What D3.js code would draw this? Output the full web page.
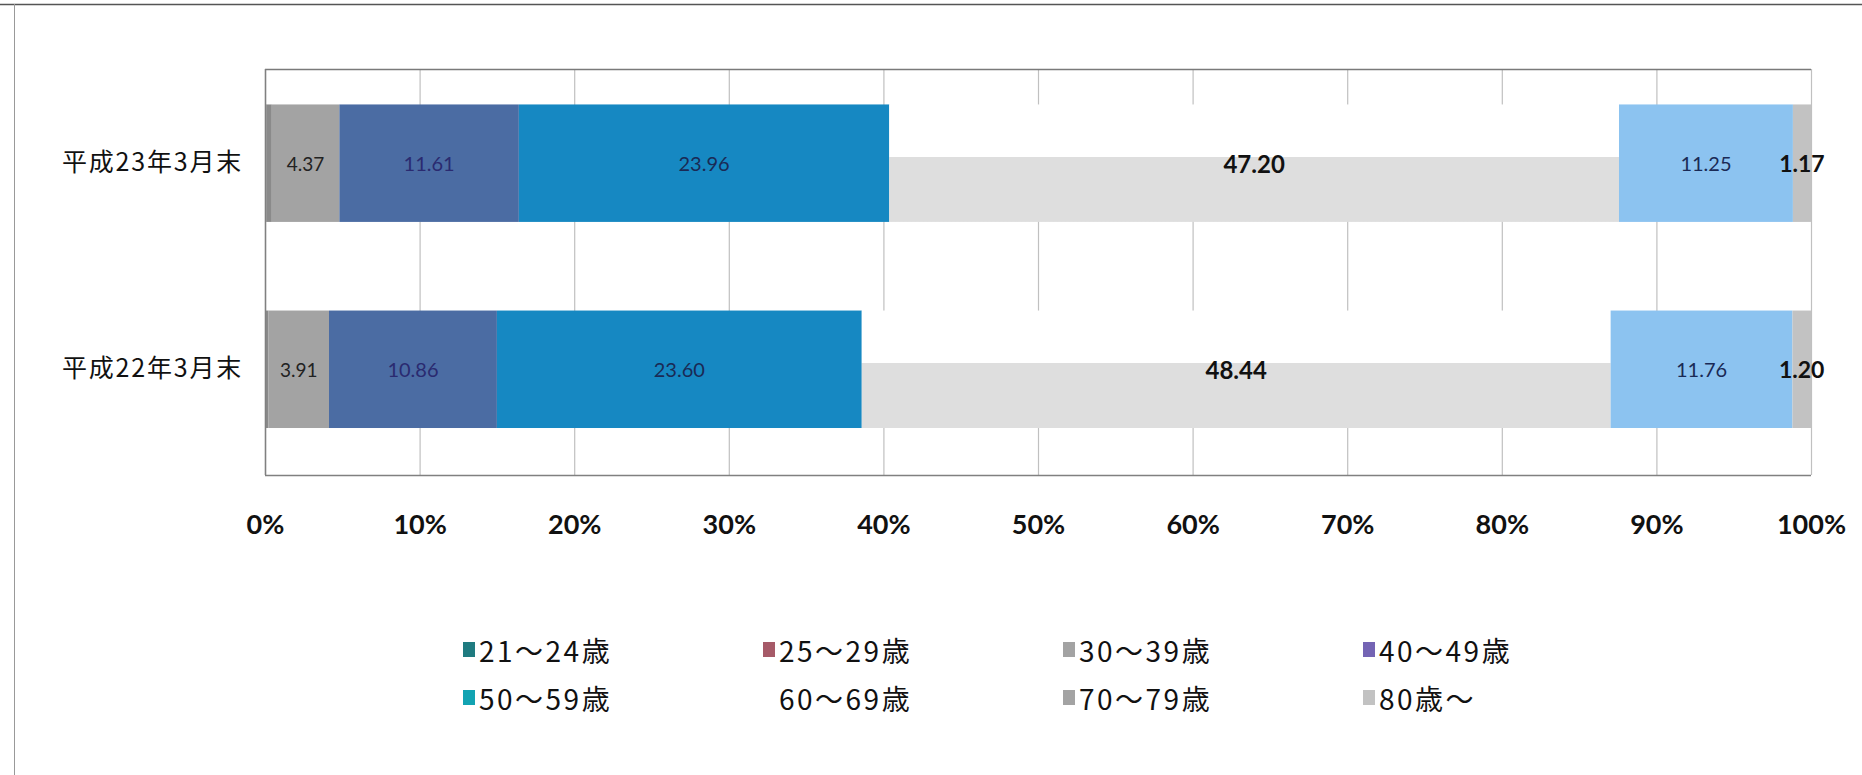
<!DOCTYPE html>
<html><head><meta charset="utf-8">
<script src="https://cdn.jsdelivr.net/npm/d3@7"></script>
<style>body{margin:0;background:#fff}svg{display:block}</style>
</head><body><svg id="c" width="1862" height="775"></svg>
<script>
// ---- data ----
const categories = ["平成23年3月末", "平成22年3月末"];
const seriesNames = ["21～24歳", "25～29歳", "30～39歳", "40～49歳", "50～59歳", "60～69歳", "70～79歳", "80歳～"];
const v21_24 = [0.08, 0.05];
const v25_29 = [0.36, 0.18];
const v30_39 = [4.37, 3.91];
const v40_49 = [11.61, 10.86];
const v50_59 = [23.96, 23.60];
const v60_69 = [47.20, 48.44];
const v70_79 = [11.25, 11.76];
const v80 = [1.17, 1.20];
const tickValues = [0, 10, 20, 30, 40, 50, 60, 70, 80, 90, 100];
const tickLabels = ["0%", "10%", "20%", "30%", "40%", "50%", "60%", "70%", "80%", "90%", "100%"];

// ---- styles ----
const barColors = ["#777777", "#8a8a8a", "#a3a3a3", "#4b6ca3", "#1688c2", "url(#g6069)", "#8cc3f0", "#c2c2c2"];
const legendColors = ["#1f7b80", "#a65a68", "#a3a3a3", "#7464b4", "#12a3b2", "none", "#a3a3a3", "#c2c2c2"];
const labelColors = ["#1a2a55", "#1a2a55", "#222", "#2a2a70", "#1a2a55", "#111", "#1a2a55", "#111"];
const labelSizes = [19, 19, 19, 20, 20, 24, 20, 23];
const showLabel = [false, false, true, true, true, true, true, true];

const seriesValues = [v21_24, v25_29, v30_39, v40_49, v50_59, v60_69, v70_79, v80];

const svg = d3.select("#c");
const defs = svg.append("defs");
const gr = defs.append("linearGradient").attr("id", "g6069").attr("x1", 0).attr("y1", 0).attr("x2", 0).attr("y2", 1);
gr.append("stop").attr("offset", "0").attr("stop-color", "#ffffff");
gr.append("stop").attr("offset", "0.45").attr("stop-color", "#ffffff");
gr.append("stop").attr("offset", "0.45").attr("stop-color", "#dedede");
gr.append("stop").attr("offset", "1").attr("stop-color", "#dedede");

// outer frame
svg.append("line").attr("x1", 0).attr("x2", 1862).attr("y1", 4.5).attr("y2", 4.5).attr("stroke", "#555").attr("stroke-width", 1.5);
svg.append("line").attr("x1", 14.5).attr("x2", 14.5).attr("y1", 4).attr("y2", 775).attr("stroke", "#999").attr("stroke-width", 1);

const L = 265, R = 1811, T = 69, B = 475;
const x = d3.scaleLinear().domain([0, 100]).range([L, R]);
const y = d3.scaleBand().domain(categories).range([T, B]).paddingInner(0.43).paddingOuter(0.2).align(0.43);

// gridlines
svg.append("g").selectAll("line").data(tickValues).join("line")
  .attr("x1", d => x(d) + 0.5).attr("x2", d => x(d) + 0.5)
  .attr("y1", T).attr("y2", B)
  .attr("stroke", "#c0c0c0").attr("stroke-width", 1.2);
// plot frame top
svg.append("line").attr("x1", L).attr("x2", R).attr("y1", T + 0.5).attr("y2", T + 0.5).attr("stroke", "#7a7a7a").attr("stroke-width", 1.5);

// stack (100%)
const rows = categories.map((c, i) => {
  const o = { cat: c };
  seriesNames.forEach((s, k) => o[s] = seriesValues[k][i]);
  return o;
});
const stack = d3.stack().keys(seriesNames).offset(d3.stackOffsetExpand);
const stacked = stack(rows);

const gBars = svg.append("g");
stacked.forEach((layer, k) => {
  gBars.append("g").selectAll("rect").data(layer).join("rect")
    .attr("x", d => x(d[0] * 100))
    .attr("width", d => x(d[1] * 100) - x(d[0] * 100))
    .attr("y", d => y(d.data.cat))
    .attr("height", y.bandwidth())
    .attr("fill", barColors[k]);
});

// axes lines
svg.append("line").attr("x1", L + 0.5).attr("x2", L + 0.5).attr("y1", T).attr("y2", B).attr("stroke", "#808080").attr("stroke-width", 1.5);
svg.append("line").attr("x1", L).attr("x2", R).attr("y1", B + 0.5).attr("y2", B + 0.5).attr("stroke", "#808080").attr("stroke-width", 1.5);

// data labels
stacked.forEach((layer, k) => {
  if (!showLabel[k]) return;
  svg.append("g").selectAll("text").data(layer).join("text")
    .attr("x", d => (x(d[0] * 100) + x(d[1] * 100)) / 2)
    .attr("y", d => y(d.data.cat) + y.bandwidth() / 2)
    .attr("text-anchor", "middle").attr("dominant-baseline", "central")
    .attr("font-family", "Lato, 'Liberation Sans', sans-serif")
    .attr("font-size", labelSizes[k])
    .attr("font-weight", k === 5 || k === 7 ? 700 : 400)
    .attr("fill", labelColors[k])
    .text((d, i) => seriesValues[k][i].toFixed(2));
});

// x axis tick labels
const xAxis = d3.axisBottom(x).tickValues(tickValues).tickFormat((d, i) => tickLabels[i]).tickSize(0).tickPadding(40);
const ax = svg.append("g").attr("transform", `translate(0,${B})`).call(xAxis);
ax.select(".domain").remove();
ax.selectAll("text").attr("font-family", "Lato, 'Liberation Sans', sans-serif").attr("font-size", 27).attr("font-weight", 700).attr("fill", "#111");

// y category labels
const yAxis = d3.axisLeft(y).tickSize(0).tickPadding(22);
const ay = svg.append("g").attr("transform", `translate(${L},0)`).call(yAxis);
ay.select(".domain").remove();
ay.selectAll("text").attr("font-family", "'Noto Sans CJK JP', sans-serif").attr("font-size", 25).attr("letter-spacing", 1.8).attr("fill", "#111");

// legend
const legX0 = 463, legStep = 300, legY = [650, 698];
const leg = svg.append("g").selectAll("g").data(seriesNames).join("g")
  .attr("transform", (d, i) => `translate(${legX0 + (i % 4) * legStep},${legY[Math.floor(i / 4)]})`);
leg.append("rect").attr("x", 0).attr("y", -8).attr("width", 12).attr("height", 15)
  .attr("fill", (d, i) => legendColors[i]);
leg.append("text").attr("x", 16).attr("y", 0).attr("dominant-baseline", "central")
  .attr("font-family", "'Noto Sans CJK JP', sans-serif").attr("font-size", 28).attr("fill", "#111")
  .attr("letter-spacing", 2.5)
  .text(d => d);
</script>
</body></html>
